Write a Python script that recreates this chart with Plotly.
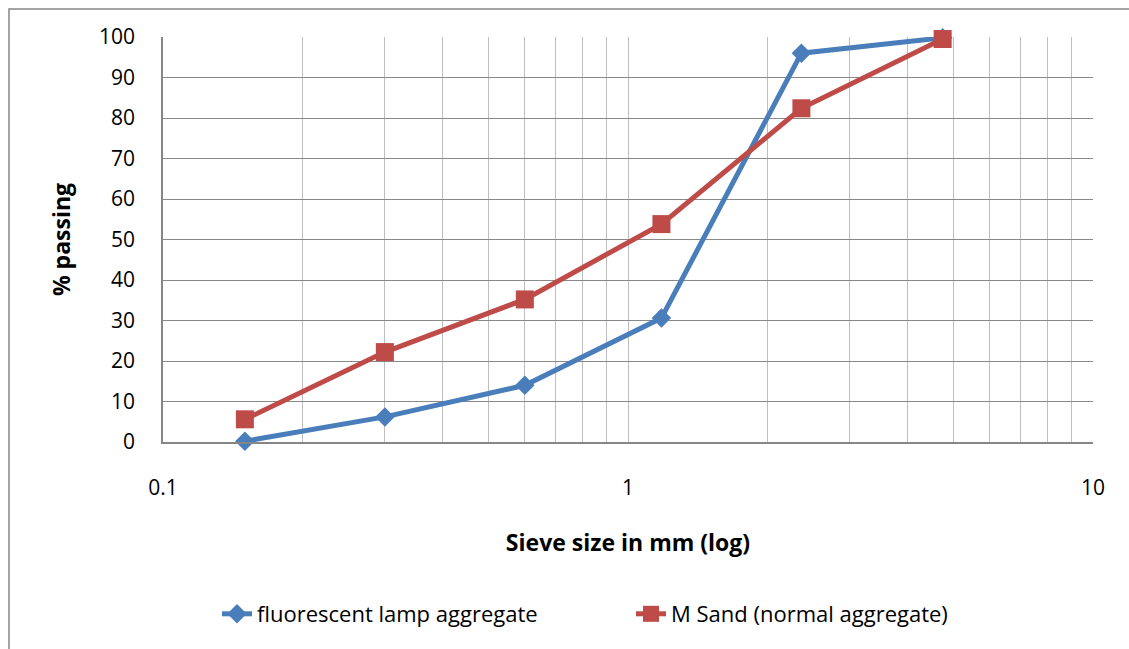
import plotly.graph_objects as go

sieve_mm = [0.15, 0.3, 0.6, 1.18, 2.36, 4.75]
fluorescent = [0.2, 6.2, 14.0, 30.6, 96.0, 99.8]
msand = [5.6, 22.2, 35.2, 53.8, 82.4, 99.5]
x_ticks = [0.1, 1, 10]
x_tick_text = ["0.1", "1", "10"]
y_ticks = list(range(0, 101, 10))

BLUE = "#4A7EBB"
RED = "#BE4B48"
FONT = "Open Sans"

fig = go.Figure()
fig.add_trace(go.Scatter(
    x=sieve_mm, y=fluorescent, mode="lines+markers",
    name="fluorescent lamp aggregate",
    line=dict(color=BLUE, width=5),
    marker=dict(symbol="diamond", size=15, color=BLUE),
    cliponaxis=False,
))
fig.add_trace(go.Scatter(
    x=sieve_mm, y=msand, mode="lines+markers",
    name="M Sand (normal aggregate)",
    line=dict(color=RED, width=5),
    marker=dict(symbol="square", size=18, color=RED),
    cliponaxis=False,
))

W, H = 1129, 649
L, T, R, B = 163, 37, 36, 207
pw, ph = W - L - R, H - T - B

def px(xpage):
    return (xpage - L) / pw

def py(ypage):
    return (H - B - ypage) / ph

fig.update_layout(
    width=W, height=H,
    margin=dict(l=L, r=R, t=T, b=B),
    paper_bgcolor="white", plot_bgcolor="white",
    font=dict(family=FONT, size=21, color="#000000"),
    showlegend=True,
    legend=dict(orientation="h", x=px(217), xanchor="left", y=py(614), yanchor="middle",
                font=dict(size=22), entrywidth=369, entrywidthmode="pixels",
                tracegroupgap=0),
    shapes=[dict(type="rect", xref="paper", yref="paper",
                 x0=px(9), x1=px(1160), y0=py(680), y1=py(9),
                 line=dict(color="#868686", width=1.5), layer="below")],
)
fig.update_xaxes(
    type="log", range=[-1, 1],
    tickvals=x_ticks, ticktext=x_tick_text,
    showgrid=True, gridcolor="#BEBEBE", gridwidth=1.3,
    minor=dict(showgrid=True, gridcolor="#BEBEBE", gridwidth=1.3, dtick="D1", ticks=""),
    showline=True, linecolor="#868686", linewidth=1.5,
    ticks="", ticklabelstandoff=26,
    tickfont=dict(size=21),
    title=dict(text="<b>Sieve size in mm (log)</b>", font=dict(size=23), standoff=35),
    zeroline=False,
)
fig.update_yaxes(
    range=[0, 100], tickvals=y_ticks,
    showgrid=True, gridcolor="#898989", gridwidth=1.3,
    showline=True, linecolor="#868686", linewidth=1.5,
    ticks="", ticklabelstandoff=22,
    tickfont=dict(size=21),
    title=dict(text="<b>% passing</b>", font=dict(size=23), standoff=22),
    zeroline=False,
)

fig.write_html("out.html",
               config={"displayModeBar": False},
               post_script="document.body.style.margin='0px';document.body.style.overflow='hidden';")
